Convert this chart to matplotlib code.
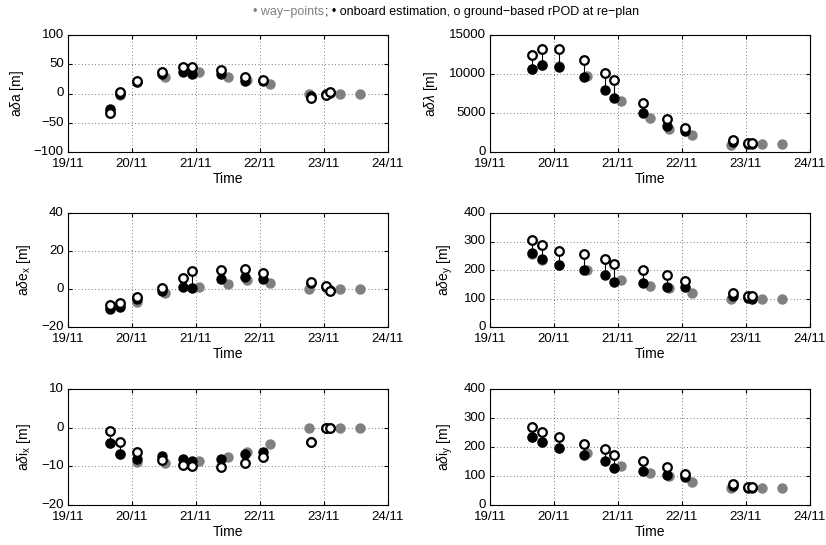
import matplotlib
matplotlib.use("Agg")
import matplotlib.pyplot as plt
from matplotlib.transforms import ScaledTranslation
from matplotlib.offsetbox import TextArea, HPacker, AnchoredOffsetbox

plt.rcParams['font.family'] = ['Liberation Sans', 'DejaVu Sans']
plt.rcParams['mathtext.fontset'] = 'custom'
plt.rcParams['mathtext.rm'] = 'Liberation Sans'
plt.rcParams['mathtext.it'] = 'Liberation Sans:italic'

# time axis: days since 19/11
day_ticks = [0, 1, 2, 3, 4, 5]
day_labels = ['19/11', '20/11', '21/11', '22/11', '23/11', '24/11']

# re-plan epochs (onboard estimate + ground rPOD) and way-point epochs
t_replan = [0.66, 0.82, 1.08, 1.47, 1.79, 1.94, 2.39, 2.76, 3.05, 3.80, 4.03, 4.10]
t_wp = [0.66, 0.82, 1.08, 1.51, 2.05, 2.50, 2.80, 3.16, 3.77, 4.25, 4.56]

# --- a delta a ---
da_wp = [-28, -3, 19, 29, 36, 28, 23, 17, 0, 0, 0]
da_onb = [-27, 0, 20, 33, 36, 34, 34, 21, 22, -4, 0, 1]
da_gnd = [-33, 3, 22, 37, 45, 46, 40, 28, 23, -7, -2, 3]

# --- a delta lambda ---
dl_wp = [10600, 11200, 11000, 9800, 6600, 4350, 2950, 2200, 900, 1000, 1000]
dl_onb = [10600, 11200, 10950, 9650, 7950, 6900, 4950, 3300, 2750, 1300, 1000, 1000]
dl_gnd = [12500, 13150, 13150, 11850, 10100, 9250, 6300, 4250, 3050, 1600, 1100, 1100]

# --- a delta e_x ---
dex_wp = [-10, -9, -7, -2, 1, 2.7, 4.5, 3, 0, 0, 0]
dex_onb = [-10.3, -9.6, -5.5, -0.9, 1, 0.5, 5.5, 6.3, 5.1, 3, 1, -0.5]
dex_gnd = [-8.5, -7.2, -4.4, 0.5, 5.6, 9.6, 10, 10.7, 8.2, 3.9, 1.5, -1]

# --- a delta e_y ---
dey_wp = [257, 236, 216, 199, 166, 143, 137, 119, 100, 100, 100]
dey_onb = [258, 237, 217, 200, 183, 158, 155, 141, 139, 108, 102, 100]
dey_gnd = [306, 287, 268, 255, 239, 220, 200, 181, 161, 120, 110, 108]

# --- a delta i_x ---
dix_wp = [-4, -6.8, -9, -9.2, -8.6, -7.5, -6.3, -4.2, 0, 0, 0]
dix_onb = [-3.9, -6.8, -8, -7.3, -8.2, -8.5, -8, -6.7, -6.3, -3.6, -0.2, -0.2]
dix_gnd = [-0.8, -3.7, -6.2, -8.3, -9.7, -10, -10.3, -9.2, -7.6, -3.6, -0.2, -0.2]

# --- a delta i_y ---
diy_wp = [235, 218, 197, 178, 134, 110, 100, 81, 60, 60, 60]
diy_onb = [235, 218, 197, 173, 153, 128, 117, 103, 95, 64, 60, 60]
diy_gnd = [270, 253, 233, 212, 192, 173, 153, 132, 107, 71, 62, 62]

panels = [
    (r'a$\delta$a [m]', da_wp, da_onb, da_gnd, (-100, 100), [-100, -50, 0, 50, 100]),
    (r'a$\delta\lambda$ [m]', dl_wp, dl_onb, dl_gnd, (0, 15000), [0, 5000, 10000, 15000]),
    (r'a$\delta$e$_{\mathrm{x}}$ [m]', dex_wp, dex_onb, dex_gnd, (-20, 40), [-20, 0, 20, 40]),
    (r'a$\delta$e$_{\mathrm{y}}$ [m]', dey_wp, dey_onb, dey_gnd, (0, 400), [0, 100, 200, 300, 400]),
    (r'a$\delta$i$_{\mathrm{x}}$ [m]', dix_wp, dix_onb, dix_gnd, (-20, 10), [-20, -10, 0, 10]),
    (r'a$\delta$i$_{\mathrm{y}}$ [m]', diy_wp, diy_onb, diy_gnd, (0, 400), [0, 100, 200, 300, 400]),
]

fig = plt.figure(figsize=(8.26, 5.45), dpi=100)

W, H = 826, 545
col_x = [68, 490]
col_w = 320
row_y = [(35, 152), (213, 327), (389, 505)]
lift = ScaledTranslation(0, 1.5 / 100, fig.dpi_scale_trans)

for i, (ylab, wp, onb, gnd, ylim, yticks) in enumerate(panels):
    r, c = divmod(i, 2)
    top, bot = row_y[r]
    ax = fig.add_axes([col_x[c] / W, 1 - bot / H, col_w / W, (bot - top) / H])

    ax.plot(t_wp, wp, 'o', color='#808080', ms=6.5, mec='#808080', zorder=2)
    ax.plot(t_replan, onb, 'o', color='black', ms=6.5, zorder=3)
    ax.vlines(t_replan, onb, gnd, color='black', lw=0.8, zorder=3)
    ax.plot(t_replan, gnd, 'o', mfc='white', mec='black', mew=1.6, ms=6.2, zorder=4)

    ax.set_xlim(0, 5)
    ax.set_xticks(day_ticks)
    ax.set_xticklabels(day_labels)
    ax.set_ylim(*ylim)
    ax.set_yticks(yticks)
    ax.grid(True, linestyle=(0, (1, 3)), color='black', lw=0.6, alpha=0.7)
    ax.tick_params(direction='in', length=3, labelsize=9.5, top=True, right=True)
    ax.tick_params(axis='x', pad=4.5)
    ax.tick_params(axis='y', pad=3)
    # lift the y tick labels a little so the lowest one clears the date labels
    for lbl in ax.get_yticklabels():
        lbl.set_transform(lbl.get_transform() + lift)
    for s in ax.spines.values():
        s.set_linewidth(0.8)
    ax.set_xlabel('Time', fontsize=10, labelpad=1)
    ax.set_ylabel(ylab, fontsize=10, labelpad=6)

# title line: grey way-points marker, then black text
t1 = TextArea('\u2022 way\u2212points', textprops=dict(color='#808080', fontsize=9))
t2 = TextArea('; \u2022 onboard estimation, o ground\u2212based rPOD at re\u2212plan',
              textprops=dict(color='black', fontsize=9))
box = HPacker(children=[t1, t2], align='baseline', pad=0, sep=0)
anchored = AnchoredOffsetbox(loc='upper center', child=box, frameon=False,
                             bbox_to_anchor=(0.54, 1.0), bbox_transform=fig.transFigure,
                             borderpad=0.0)
fig.add_artist(anchored)

fig.savefig('out.png', dpi=100)
